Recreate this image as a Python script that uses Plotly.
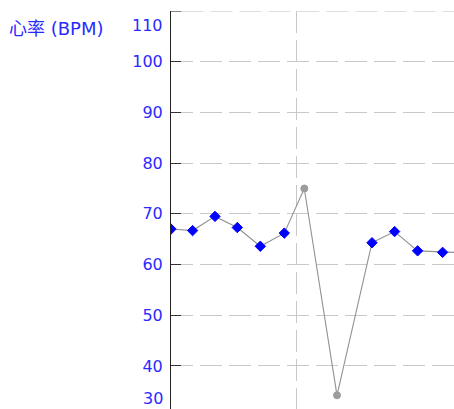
import plotly.graph_objects as go

# Data
time_min = [0.0, 2.16, 4.4, 6.63, 8.93, 11.33, 13.33, 16.6, 20.1, 22.36, 24.66, 27.16, 29.4]
heart_rate = [67.0, 66.7, 69.5, 67.3, 63.6, 66.2, 75.0, 34.2, 64.3, 66.5, 62.7, 62.4, 62.3]
artifact = [False, False, False, False, False, False, True, True, False, False, False, False, False]
y_ticks = [40, 50, 60, 70, 80, 90, 100]
y_edge_labels = ["110", "30"]
axis_title = "心率 (BPM)"
x_grid = [12.5]

BLUE = "#2a2aff"
GRAY_MARK = "#9c9c9c"
GRID = "#c8c8c8"
FONT = "DejaVu Sans, Noto Sans CJK SC, sans-serif"

colors = [GRAY_MARK if a else "#0000ff" for a in artifact]
symbols = ["circle" if a else "diamond" for a in artifact]
sizes = [7 if a else 8 for a in artifact]

fig = go.Figure()
fig.add_trace(go.Scatter(
    x=time_min, y=heart_rate, mode="lines+markers",
    line=dict(color="#929292", width=1.1),
    marker=dict(color=colors, symbol=symbols, size=sizes, opacity=1,
                line=dict(width=1, color=colors)),
    cliponaxis=True, showlegend=False,
))

fig.update_layout(
    width=454, height=409,
    margin=dict(l=171, r=0, t=11, b=0, pad=0, autoexpand=False),
    paper_bgcolor="white", plot_bgcolor="white",
    font=dict(family=FONT, size=16, color=BLUE),
    xaxis=dict(range=[0, 28.3], showticklabels=False, ticks="", showline=False,
               zeroline=False, showgrid=True, tickvals=x_grid, automargin=False,
               gridcolor=GRID, griddash="22px,7px", gridwidth=1),
    yaxis=dict(range=[31.5, 110.02], tickvals=y_ticks, showgrid=True, automargin=False,
               gridcolor=GRID, griddash="22px,7px", gridwidth=1,
               zeroline=False, showline=True, linecolor="#222", linewidth=1,
               ticks="inside", ticklen=10, tickcolor="#333", tickwidth=1,
               tickfont=dict(family=FONT, size=16, color=BLUE),
               ticklabelstandoff=4),
)
# tick mark and gridline at 110 on the top edge
fig.add_shape(type="line", xref="paper", yref="y", x0=0, x1=0.037, y0=110, y1=110,
              line=dict(color="#333", width=1))
fig.add_shape(type="line", xref="paper", yref="y", x0=0.037, x1=1, y0=110, y1=110,
              line=dict(color=GRID, width=1, dash="22px,7px"))

fig.add_annotation(text=y_edge_labels[0], xref="paper", yref="paper", x=0, y=1,
                   xanchor="right", yanchor="middle", xshift=-6, yshift=-14,
                   showarrow=False, font=dict(family=FONT, size=16, color=BLUE))
fig.add_annotation(text=y_edge_labels[1], xref="paper", yref="paper", x=0, y=0,
                   xanchor="right", yanchor="middle", xshift=-6, yshift=11,
                   showarrow=False, font=dict(family=FONT, size=16, color=BLUE))
fig.add_annotation(text=axis_title, xref="paper", yref="paper", x=-171/283, y=1,
                   xanchor="left", yanchor="middle", xshift=7, yshift=-17,
                   showarrow=False, font=dict(family=FONT, size=18, color=BLUE))

fig.write_html("out.html", config={"displayModeBar": False},
               post_script="document.body.style.margin='0';")
